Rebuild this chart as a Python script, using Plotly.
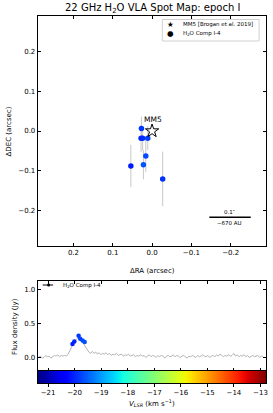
import numpy as np
import plotly.graph_objects as go

# ---------------- data ----------------
spot_ra = [0.027, 0.028, 0.024, 0.011, 0.016, 0.022, 0.054, -0.027]
spot_dec = [0.006, -0.018, -0.018, -0.018, -0.063, -0.085, -0.088, -0.121]
spot_dec_err = [0.030, 0.035, 0.030, 0.030, 0.040, 0.037, 0.053, 0.069]
spot_vel = [-19.84, -20.0, -19.95, -19.78, -19.69, -19.62, -20.09, -19.9]

mm5_ra = [0.0]
mm5_dec = [0.0]

spec_v0 = -21.35
spec_dv = 0.065
spec_flux = [
    0.01, 0.02, -0.01, 0.00, 0.03, 0.01, 0.02, -0.01, 0.01, 0.03,
    0.02, 0.04, 0.01, 0.03, 0.02, 0.03, 0.02, 0.05, 0.10, 0.16,
    0.21, 0.25, 0.28, 0.30, 0.28, 0.24, 0.19, 0.14, 0.11, 0.08,
    0.06, 0.09, 0.06, 0.08, 0.05, 0.07, 0.04, 0.06, 0.05, 0.07,
    0.04, 0.06, 0.03, 0.05, 0.04, 0.06, 0.03, 0.04, 0.05, 0.02,
    0.04, 0.03, 0.05, 0.02, 0.03, 0.04, 0.01, 0.03, 0.02, 0.04,
    0.02, 0.03, 0.00, 0.02, 0.04, 0.01, 0.03, 0.02, 0.00, 0.03,
    0.01, 0.03, 0.02, -0.01, 0.02, 0.03, 0.01, 0.02, 0.04, 0.01,
    0.03, 0.02, 0.00, 0.02, 0.03, 0.01, -0.01, 0.02, 0.01, 0.03,
    0.02, 0.00, 0.03, 0.01, 0.02, 0.04, 0.02, 0.01, 0.03, 0.00,
    0.02, 0.03, 0.01, 0.04, 0.02, 0.05, 0.03, 0.01, 0.03, 0.02,
    0.04, 0.02, 0.03, 0.06, 0.02, 0.04, 0.01, 0.03, 0.02, 0.04,
    0.01, 0.03, 0.00, 0.02, 0.03, 0.01, 0.02, 0.03, 0.00, 0.02, 0.01,
]
spec_vel = [spec_v0 + i * spec_dv for i in range(len(spec_flux))]

comp_vel = [-20.08, -20.01, -19.85, -19.79, -19.70, -19.62]
comp_flux = [0.20, 0.235, 0.32, 0.275, 0.25, 0.23]

map_ticks = [0.2, 0.1, 0.0, -0.1, -0.2]
map_ticktext = ["0.2", "0.1", "0.0", "\u22120.1", "\u22120.2"]
vel_ticks = [-21, -20, -19, -18, -17, -16, -15, -14, -13]
vel_ticktext = ["\u2212%d" % abs(v) for v in vel_ticks]

VMIN, VMAX = -21.39, -12.79

# ---------------- jet colormap ----------------
def jet(t):
    r = np.interp(t, [0, 0.35, 0.66, 0.89, 1], [0, 0, 1, 1, 0.5])
    g = np.interp(t, [0, 0.125, 0.375, 0.64, 0.91, 1], [0, 0, 1, 1, 0, 0])
    b = np.interp(t, [0, 0.11, 0.34, 0.65, 1], [0.5, 1, 1, 0, 0])
    return "rgb(%d,%d,%d)" % (round(r * 255), round(g * 255), round(b * 255))

jet_scale = [[float(t), jet(t)] for t in np.linspace(0, 1, 41)]

W, H = 273, 413
def px(x):
    return x / W
def py(y):
    return 1 - y / H

FONT = "DejaVu Sans"
fig = go.Figure()

# ---------------- spot map ----------------
fig.add_trace(go.Scatter(
    x=spot_ra, y=spot_dec, mode="markers",
    error_y=dict(type="data", array=spot_dec_err, color="#c8c8c8", thickness=1, width=0),
    marker=dict(size=5.5, color=spot_vel, coloraxis="coloraxis", line=dict(width=0)),
    xaxis="x", yaxis="y", showlegend=False, hoverinfo="skip"))
fig.add_trace(go.Scatter(
    x=mm5_ra, y=mm5_dec, mode="markers",
    marker=dict(symbol="star-open", size=10, color="black", line=dict(width=1, color="black")),
    xaxis="x", yaxis="y", showlegend=False))

# ---------------- spectrum ----------------
fig.add_trace(go.Scatter(
    x=spec_vel, y=spec_flux, mode="lines", line=dict(color="#b4b4b4", width=1),
    xaxis="x2", yaxis="y2", showlegend=False))
fig.add_trace(go.Scatter(
    x=comp_vel, y=comp_flux, mode="markers",
    marker=dict(size=4.5, color=comp_vel, coloraxis="coloraxis"),
    xaxis="x2", yaxis="y2", showlegend=False))

# ---------------- colourbar strip ----------------
cb_x = np.linspace(VMIN, VMAX, 300)
fig.add_trace(go.Heatmap(
    x=cb_x, y=[0], z=[cb_x], coloraxis="coloraxis",
    xaxis="x3", yaxis="y3", hoverinfo="skip"))

axis_common = dict(showline=True, linecolor="black", linewidth=1, mirror="allticks",
                   ticks="inside", ticklen=3, tickcolor="black", showgrid=False,
                   zeroline=False, tickfont=dict(family=FONT, size=7, color="black"))

fig.update_layout(
    width=W, height=H, margin=dict(l=0, r=0, t=0, b=0),
    paper_bgcolor="white", plot_bgcolor="white",
    coloraxis=dict(colorscale=jet_scale, cmin=VMIN, cmax=VMAX, showscale=False),
    xaxis=dict(domain=[px(38), px(268)], range=[0.291, -0.29], tickvals=map_ticks,
               ticktext=map_ticktext, anchor="y", **axis_common),
    yaxis=dict(domain=[py(246), py(16)], range=[-0.29, 0.29], tickvals=map_ticks,
               ticktext=map_ticktext, anchor="x", **axis_common),
    xaxis2=dict(domain=[px(38), px(268)], range=[VMIN, VMAX], tickvals=vel_ticks,
                showticklabels=False, anchor="y2", **axis_common),
    yaxis2=dict(domain=[py(371), py(281)], range=[-0.2, 1.13], tickvals=[0, 0.5, 1.0],
                ticktext=["0.0", "0.5", "1.0"], anchor="x2", **axis_common),
    xaxis3=dict(domain=[px(38), px(268)], range=[VMIN, VMAX], tickvals=vel_ticks,
                ticktext=vel_ticktext, anchor="y3", showline=True, linecolor="black",
                linewidth=1, mirror=True, ticks="outside", ticklen=3, tickcolor="black",
                showgrid=False, zeroline=False,
                tickfont=dict(family=FONT, size=7, color="black")),
    yaxis3=dict(domain=[py(383), py(371)], range=[-0.5, 0.5], showticklabels=False,
                ticks="", showline=True, linecolor="black", linewidth=1, mirror=True,
                showgrid=False, zeroline=False, anchor="x3"),
)

ann = []
def text(x, y, s, size=7, xanchor="center", yanchor="middle", angle=0, xref="paper", yref="paper"):
    ann.append(dict(x=x, y=y, xref=xref, yref=yref, text=s, showarrow=False,
                    xanchor=xanchor, yanchor=yanchor, textangle=angle,
                    font=dict(family=FONT, size=size, color="black")))

text(px(153.5), py(8.5), "22 GHz H<sub>2</sub>O VLA Spot Map: epoch I", size=10)
text(px(9.5), py(131), "\u0394DEC (arcsec)", angle=-90)
text(px(153.5), py(271), "\u0394RA (arcsec)")
text(px(15), py(326), "Flux density (Jy)", angle=-90)
text(px(153.5), py(402.5), "<i>V</i><sub><i>LSR</i></sub> (km s<sup>\u22121</sup>)")

# MM5 label
text(-0.003, 0.028, "MM5", size=7.5, xref="x", yref="y")
# scale bar texts
text(-0.198, -0.204, "0.1\u2033", size=5.5, xref="x", yref="y")
text(-0.198, -0.233, "~670 AU", size=5.5, xref="x", yref="y")

# map legend
text(px(171.7), py(24.5), "\u2605", size=7.5)
text(px(182.5), py(24.5), "MM5 [Brogan et al. 2019]", size=5.5, xanchor="left")
text(px(171.7), py(33.5), "\u25cf", size=7.5)
text(px(182.5), py(33.5), "H<sub>2</sub>O Comp I-4", size=5.5, xanchor="left")

# spectrum legend
text(px(61), py(285), "H<sub>2</sub>O Comp I-4", size=5.5, xanchor="left")

shapes = [
    dict(type="rect", xref="paper", yref="paper", x0=px(163.5), x1=px(261), y0=py(41), y1=py(19.5),
         line=dict(color="#d0d0d0", width=1), fillcolor="white", layer="above"),
    dict(type="line", xref="x", yref="y", x0=-0.1457, x1=-0.251, y0=-0.2174, y1=-0.2174,
         line=dict(color="black", width=1.5)),
    dict(type="line", xref="paper", yref="paper", x0=px(43), x1=px(53.5), y0=py(285), y1=py(285),
         line=dict(color="black", width=1)),
    dict(type="circle", xref="paper", yref="paper", x0=px(47.5), x1=px(50.5), y0=py(286.5), y1=py(283.5),
         line=dict(color="black", width=0), fillcolor="black"),
]
fig.update_layout(annotations=ann, shapes=shapes)

fig.write_html("out.html", config={"displayModeBar": False},
               post_script="document.body.style.margin='0';document.body.style.overflow='hidden';")
